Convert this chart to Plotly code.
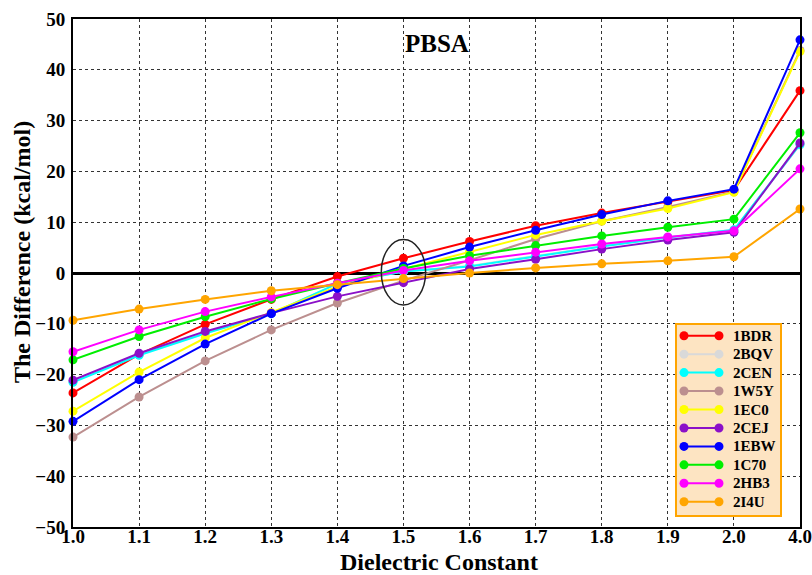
import plotly.graph_objects as go

# Dielectric constants (categorical, evenly spaced on the axis)
dielectric = ["1.0", "1.1", "1.2", "1.3", "1.4", "1.5", "1.6", "1.7", "1.8", "1.9", "2.0", "4.0"]
x_pos = list(range(len(dielectric)))

# Energy difference (kcal/mol) for each complex
d_1BDR = [-23.6, -16.0, -10.1, -5.2, -0.7, 2.9, 6.2, 9.3, 11.8, 14.0, 16.3, 35.9]
d_2BQV = [-21.3, -16.1, -11.8, -8.0, -2.1, 0.3, 1.4, 3.4, 5.3, 7.0, 8.5, 25.2]
d_2CEN = [-21.5, -16.2, -11.9, -8.0, -2.1, 0.3, 1.3, 3.3, 5.2, 7.0, 8.5, 25.3]
d_1W5Y = [-32.3, -24.4, -17.3, -11.2, -5.9, -1.5, 2.5, 6.7, 10.2, 13.0, 16.0, 43.8]
d_1EC0 = [-27.2, -19.5, -12.8, -7.8, -2.7, 0.8, 4.2, 7.5, 10.2, 12.7, 15.9, 43.6]
d_2CEJ = [-21.1, -15.8, -11.5, -7.9, -4.6, -1.9, 0.8, 2.7, 4.7, 6.5, 8.0, 25.6]
d_1EBW = [-29.2, -21.0, -14.0, -8.0, -3.0, 1.4, 5.1, 8.4, 11.5, 14.2, 16.5, 45.9]
d_1C70 = [-17.1, -12.5, -8.6, -5.1, -2.0, 0.9, 3.4, 5.4, 7.3, 9.0, 10.6, 27.6]
d_2HB3 = [-15.5, -11.2, -7.6, -4.7, -2.0, 0.5, 2.4, 4.1, 5.7, 7.1, 8.3, 20.5]
d_2I4U = [-9.3, -7.1, -5.2, -3.5, -2.3, -1.1, 0.0, 1.0, 1.8, 2.4, 3.2, 12.6]

series = [
    ("1BDR", d_1BDR, "#ff0000"),
    ("2BQV", d_2BQV, "#d9d9d9"),
    ("2CEN", d_2CEN, "#00ffff"),
    ("1W5Y", d_1W5Y, "#bc8f8f"),
    ("1EC0", d_1EC0, "#ffff00"),
    ("2CEJ", d_2CEJ, "#8b10c8"),
    ("1EBW", d_1EBW, "#0000ff"),
    ("1C70", d_1C70, "#00ee00"),
    ("2HB3", d_2HB3, "#ff00ff"),
    ("2I4U", d_2I4U, "#ffa500"),
]

y_ticks = list(range(-50, 51, 10))

SERIF = "Liberation Serif, Times New Roman, serif"
W, H = 812, 575
ML, MR, MT, MB = 73, 12, 19, 48
PW, PH = W - ML - MR, H - MT - MB


def px_x(px):
    """Pixel column -> paper x."""
    return (px - ML) / PW


def px_y(py):
    """Pixel row -> paper y."""
    return (H - MB - py) / PH


fig = go.Figure()
for name, vals, color in series:
    fig.add_trace(go.Scatter(
        x=x_pos, y=vals, name=name, mode="lines+markers",
        line=dict(color=color, width=2),
        marker=dict(color=color, size=9),
        cliponaxis=False, showlegend=False,
    ))

# Ellipse highlighting the crossover region at ε = 1.5
fig.add_shape(type="circle", xref="x", yref="y",
              x0=5 - 0.335, x1=5 + 0.335, y0=-6.3, y1=6.6,
              line=dict(color="#222222", width=1.5), layer="above")

fig.add_annotation(x=5.51, y=45.2, xref="x", yref="y", text="PBSA", showarrow=False,
                   font=dict(family=SERIF, size=25, color="black", weight="bold"))

# Axis titles
fig.add_annotation(x=px_x(439), y=px_y(576), xref="paper", yref="paper",
                   text="Dielectric Constant", showarrow=False,
                   xanchor="center", yanchor="bottom", borderpad=0,
                   font=dict(family=SERIF, size=24, color="black", weight="bold"))
fig.add_annotation(x=px_x(22), y=px_y(252), xref="paper", yref="paper",
                   text="The Difference (kcal/mol)", showarrow=False, textangle=-90,
                   xanchor="center", yanchor="middle",
                   font=dict(family=SERIF, size=24, color="black", weight="bold"))

# Legend panel: orange-bordered box with a keyed line per complex
box_l, box_r, box_t, box_b = 676, 781, 324, 516
fig.add_shape(type="rect", xref="paper", yref="paper",
              x0=px_x(box_l), x1=px_x(box_r), y0=px_y(box_b), y1=px_y(box_t),
              fillcolor="#fde4c2", line=dict(color="#ffa500", width=2), layer="above")
row0, row_step = 335.7, 18.45
key_l, key_r, text_x, r = 684, 719, 731, 4.5
for i, (name, _, color) in enumerate(series):
    cy = row0 + i * row_step
    fig.add_shape(type="line", xref="paper", yref="paper",
                  x0=px_x(key_l), x1=px_x(key_r), y0=px_y(cy), y1=px_y(cy),
                  line=dict(color=color, width=2), layer="above")
    for cx in (key_l, key_r):
        fig.add_shape(type="circle", xref="paper", yref="paper",
                      x0=px_x(cx - r), x1=px_x(cx + r), y0=px_y(cy + r), y1=px_y(cy - r),
                      fillcolor=color, line=dict(color=color, width=0), layer="above")
    fig.add_annotation(x=px_x(text_x), y=px_y(cy), xref="paper", yref="paper",
                       text=name, showarrow=False, xanchor="left", yanchor="middle",
                       font=dict(family=SERIF, size=15, color="black", weight="bold"))

fig.update_layout(
    width=W, height=H,
    margin=dict(l=ML, r=MR, t=MT, b=MB),
    paper_bgcolor="white", plot_bgcolor="white",
    font=dict(family=SERIF, color="black", weight="bold"),
    showlegend=False,
    xaxis=dict(
        range=[0, 11], tickmode="array", tickvals=x_pos, ticktext=dielectric,
        showgrid=True, gridcolor="#333333", griddash="dot", gridwidth=1,
        showline=True, linecolor="black", linewidth=2, mirror=True,
        ticks="", ticklen=0, zeroline=False, automargin=False,
        ticklabeloverflow="allow", ticklabelstandoff=-9,
        tickfont=dict(family=SERIF, size=19, weight="bold"),
    ),
    yaxis=dict(
        range=[-50, 50], tickmode="array", tickvals=y_ticks,
        showgrid=True, gridcolor="#333333", griddash="dot", gridwidth=1,
        showline=True, linecolor="black", linewidth=2, mirror=True,
        ticks="", ticklen=0, zeroline=True, zerolinecolor="black", zerolinewidth=2.5,
        automargin=False, ticklabeloverflow="allow", ticklabelstandoff=2,
        tickfont=dict(family=SERIF, size=19, weight="bold"),
    ),
)

fig.write_html("out.html")
